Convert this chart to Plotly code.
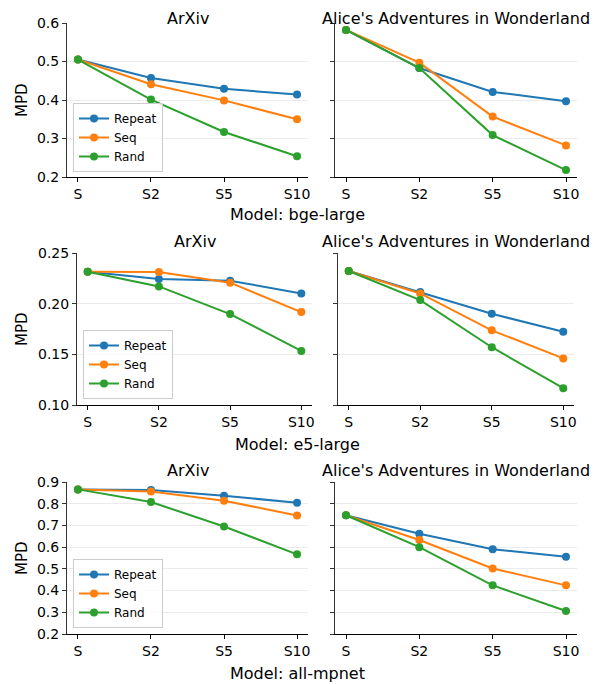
import plotly.graph_objects as go

steps = ["S", "S2", "S5", "S10"]
series_names = ["Repeat", "Seq", "Rand"]
series_colors = ["#1f77b4", "#ff7f0e", "#2ca02c"]
datasets = ["ArXiv", "Alice's Adventures in Wonderland"]
models = ["bge-large", "e5-large", "all-mpnet"]

bge_arxiv_repeat = [0.505, 0.457, 0.429, 0.414]
bge_arxiv_seq = [0.505, 0.441, 0.399, 0.350]
bge_arxiv_rand = [0.505, 0.401, 0.317, 0.254]
bge_alice_repeat = [0.582, 0.483, 0.421, 0.397]
bge_alice_seq = [0.582, 0.497, 0.357, 0.282]
bge_alice_rand = [0.582, 0.483, 0.309, 0.218]

e5_arxiv_repeat = [0.2315, 0.2243, 0.2227, 0.2101]
e5_arxiv_seq = [0.2315, 0.2312, 0.2207, 0.1917]
e5_arxiv_rand = [0.2315, 0.2170, 0.1897, 0.1534]
e5_alice_repeat = [0.2322, 0.2114, 0.1900, 0.1722]
e5_alice_seq = [0.2322, 0.2101, 0.1737, 0.1460]
e5_alice_rand = [0.2322, 0.2035, 0.1570, 0.1166]

mpnet_arxiv_repeat = [0.866, 0.863, 0.837, 0.804]
mpnet_arxiv_seq = [0.866, 0.856, 0.814, 0.746]
mpnet_arxiv_rand = [0.866, 0.808, 0.695, 0.567]
mpnet_alice_repeat = [0.747, 0.662, 0.590, 0.556]
mpnet_alice_seq = [0.747, 0.633, 0.502, 0.424]
mpnet_alice_rand = [0.747, 0.600, 0.424, 0.306]

y_ticks_bge = [0.2, 0.3, 0.4, 0.5, 0.6]
y_ticks_e5 = [0.10, 0.15, 0.20, 0.25]
y_ticks_mpnet = [0.2, 0.3, 0.4, 0.5, 0.6, 0.7, 0.8, 0.9]

panel_data = [
    [[bge_arxiv_repeat, bge_arxiv_seq, bge_arxiv_rand],
     [bge_alice_repeat, bge_alice_seq, bge_alice_rand]],
    [[e5_arxiv_repeat, e5_arxiv_seq, e5_arxiv_rand],
     [e5_alice_repeat, e5_alice_seq, e5_alice_rand]],
    [[mpnet_arxiv_repeat, mpnet_arxiv_seq, mpnet_arxiv_rand],
     [mpnet_alice_repeat, mpnet_alice_seq, mpnet_alice_rand]],
]
row_ticks = [y_ticks_bge, y_ticks_e5, y_ticks_mpnet]
row_fmt = [".1f", ".2f", ".1f"]

# The page body has an 8px margin, so the figure is drawn 8px in from the window edge.
OFF = 8
W, H = 600 - OFF, 684 - OFF


def px(x):
    return (x - OFF) / W


def py(y):
    return 1 - (y - OFF) / H


# pixel geometry per row (window coords): left x0,x1, right x0,x1, y top, y bottom
geom = [
    (67, 308, 335, 577, 23, 177),
    (77, 312, 338, 574, 253, 405),
    (67, 308, 335, 577, 482, 634),
]
legend_pos = [(73, 172), (83, 399), (73, 628)]
xlabel_y = [215, 444, 673]
title_y = [12, 241, 470]

fig = go.Figure()
layout = dict(
    width=W, height=H,
    margin=dict(l=0, r=0, t=0, b=0, autoexpand=False),
    paper_bgcolor="white", plot_bgcolor="white",
    font=dict(family="DejaVu Sans", size=14, color="black"),
    annotations=[],
)

FS_TICK = 14
ax_idx = 0
for r in range(3):
    lx0, lx1, rx0, rx1, yt, yb = geom[r]
    ticks = row_ticks[r]
    yrange = [ticks[0], ticks[-1]]
    legend_name = "legend" if r == 0 else "legend%d" % (r + 1)
    for c in range(2):
        ax_idx += 1
        sfx = "" if ax_idx == 1 else str(ax_idx)
        x0, x1 = (lx0, lx1) if c == 0 else (rx0, rx1)
        for s in range(3):
            fig.add_trace(go.Scatter(
                x=steps, y=panel_data[r][c][s], name=series_names[s],
                mode="lines+markers",
                line=dict(color=series_colors[s], width=2),
                marker=dict(color=series_colors[s], size=8),
                xaxis="x" + sfx, yaxis="y" + sfx,
                showlegend=(c == 0), legend=legend_name,
            ))
        layout["xaxis" + sfx] = dict(
            domain=[px(x0), px(x1)], anchor="y" + sfx, automargin=False,
            type="category", categoryorder="array", categoryarray=steps,
            range=[-0.15, 3.15], showgrid=False, zeroline=False,
            showline=True, linecolor="black", linewidth=1,
            ticks="outside", ticklen=4, tickcolor="black",
            tickfont=dict(size=FS_TICK),
        )
        layout["yaxis" + sfx] = dict(
            domain=[py(yb), py(yt)], anchor="x" + sfx, automargin=False,
            range=yrange, tickvals=ticks, tickformat=row_fmt[r],
            showticklabels=(c == 0),
            showgrid=True, gridcolor="#ebebeb", gridwidth=1, zeroline=False,
            showline=True, linecolor="#333333", linewidth=1,
            ticks="outside", ticklen=4, tickcolor="#333333",
            tickfont=dict(size=FS_TICK),
        )
        if r == 0:
            ty, tanchor = 1.0, "top"
        else:
            ty, tanchor = py(title_y[r]), "middle"
        layout["annotations"].append(dict(
            text=datasets[c], x=px((x0 + x1) / 2), y=ty,
            xref="paper", yref="paper", showarrow=False, borderpad=0,
            xanchor="center", yanchor=tanchor, font=dict(size=16),
        ))
    layout["annotations"].append(dict(
        text="MPD", x=px(22), y=py((yt + yb) / 2),
        xref="paper", yref="paper", showarrow=False, textangle=-90,
        xanchor="center", yanchor="middle", font=dict(size=15),
    ))
    layout["annotations"].append(dict(
        text="Model: " + models[r], x=px(297), y=py(xlabel_y[r]),
        xref="paper", yref="paper", showarrow=False,
        xanchor="center", yanchor="middle", font=dict(size=16),
    ))
    lgx, lgy = legend_pos[r]
    layout[legend_name] = dict(
        x=px(lgx), y=py(lgy), xanchor="left", yanchor="bottom",
        bgcolor="rgba(255,255,255,0.8)", bordercolor="#cccccc", borderwidth=1,
        font=dict(size=12), itemwidth=30, tracegroupgap=0,
    )

fig.update_layout(**layout)
fig.write_html("out.html")
